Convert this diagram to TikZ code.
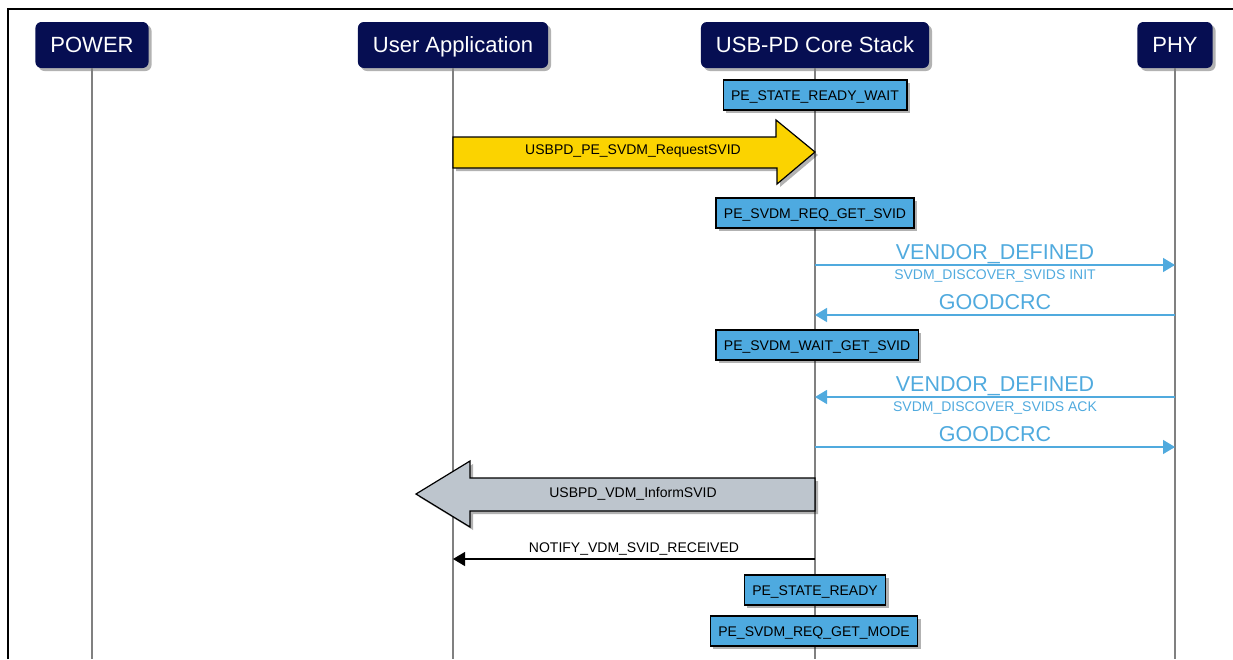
\documentclass[tikz,border=0pt]{standalone}
\usepackage{fontspec}
\setmainfont{Liberation Sans}
\usetikzlibrary{arrows.meta, positioning, shadows, calc}
\definecolor{colHead}{RGB}{6,14,82}
\definecolor{colState}{RGB}{78,170,224}
\definecolor{colMsg}{RGB}{80,170,222}
\definecolor{colCall}{RGB}{251,211,0}
\definecolor{colReply}{RGB}{189,197,205}
\definecolor{colLife}{RGB}{128,128,128}
\tikzset{
  boxShadow/.style={
    drop shadow={shadow xshift=3pt, shadow yshift=-3pt,
                 fill=black, opacity=0.3}
  },
  headBox/.style={
    rectangle, rounded corners=6pt,
    fill=colHead, text=white,
    font=\fontsize{22}{26}\selectfont,
    minimum height=46pt, inner xsep=15pt,
    text height=15.8pt, text depth=0pt,
    boxShadow
  },
  stateBox/.style={
    rectangle, draw=black, line width=1.2pt,
    fill=colState, font=\fontsize{14}{16}\selectfont,
    minimum height=30pt, inner xsep=8pt,
    text height=10pt, text depth=0pt,
    boxShadow
  },
  lifeLine/.style={
    line width=1.8pt, color=colLife
  },
  blockArr/.style={
    draw=black, line width=1.2pt, line join=miter, boxShadow
  },
  smallLbl/.style={
    font=\fontsize{14}{16}\selectfont
  },
  msgArr/.style={
    -{Triangle[length=12pt, width=14pt]}, line width=1.3pt, color=colMsg
  },
  msgBig/.style={
    font=\fontsize{21.5}{24}\selectfont, text=colMsg,
    anchor=base, yshift=5.8pt
  },
  msgSmall/.style={
    font=\fontsize{14}{16}\selectfont, text=colMsg,
    anchor=base, yshift=-14.8pt
  },
  notifyArr/.style={
    -{Triangle[length=12pt, width=14pt]}, line width=1.2pt, color=black
  }
}

\begin{document}
\begin{tikzpicture}[x=1pt, y=-1pt]
\useasboundingbox (0,0) rectangle (1233,659);

% frame of the figure
\draw[line width=2.5pt] (8,659) -- (8,9) -- (1233,9);

%% ==============================================================
%% Participants
%% ==============================================================

% --- Participant heads ---
\node[headBox] (hPower) at (92,45)   {POWER};
\node[headBox] (hUser)  at (453,45)  {User Application};
\node[headBox] (hCore)  at (815,45)  {USB-PD Core Stack};
\node[headBox] (hPhy)   at (1175,45) {PHY};

% --- Lifelines ---
\draw[lifeLine] (hPower.south) -- (hPower |- 0,659);
\draw[lifeLine] (hUser.south)  -- (hUser |- 0,659);
\draw[lifeLine] (hCore.south)  -- (hCore |- 0,659);
\draw[lifeLine] (hPhy.south)   -- (hPhy |- 0,659);

%% ==============================================================
%% Policy engine states
%% ==============================================================

\node[stateBox] (readyWait) at (815,95)  {PE\_STATE\_READY\_WAIT};
\node[stateBox] (reqSvid)   at (815,213) {PE\_SVDM\_REQ\_GET\_SVID};
\node[stateBox] (waitSvid)  at (817,345) {PE\_SVDM\_WAIT\_GET\_SVID};
\node[stateBox] (stReady)   at (815,590) {PE\_STATE\_READY};
\node[stateBox] (reqMode)   at (814,631) {PE\_SVDM\_REQ\_GET\_MODE};

%% ==============================================================
%%  ARROWS
%% ==============================================================

% User Application -> Core Stack (API call)
\draw[blockArr, fill=colCall] (hUser |- 0,137) -- ++(323,0) -- ++(0,-17)
    -- (hCore |- 0,152) -- ++(-38,32) -- ++(0,-16)
    -- (hUser |- 0,168) -- cycle;
\node[smallLbl] (callLbl) at (633,151) {USBPD\_PE\_SVDM\_RequestSVID};

% Core Stack -> PHY, discover SVIDs
\draw[msgArr] (hCore |- 0,265) --
    node[msgBig]   {VENDOR\_DEFINED}
    node[msgSmall] {SVDM\_DISCOVER\_SVIDS INIT}
    (hPhy |- 0,265);

% PHY -> Core Stack
\draw[msgArr] (hPhy |- 0,315) -- node[msgBig] {GOODCRC} (hCore |- 0,315);

% PHY -> Core Stack, answer
\draw[msgArr] (hPhy |- 0,397) --
    node[msgBig]   {VENDOR\_DEFINED}
    node[msgSmall] {SVDM\_DISCOVER\_SVIDS ACK}
    (hCore |- 0,397);

% Core Stack -> PHY
\draw[msgArr] (hCore |- 0,447) -- node[msgBig] {GOODCRC} (hPhy |- 0,447);

% Core Stack -> User Application (callback)
\draw[blockArr, fill=colReply] (hCore |- 0,478) -- ++(-345,0) -- ++(0,-17)
    -- ++(-54,33) -- ++(54,33) -- ++(0,-16)
    -- (hCore |- 0,511) -- cycle;
\node[smallLbl] (replyLbl) at (633,494) {USBPD\_VDM\_InformSVID};

% notification to the application
\draw[notifyArr] (hCore |- 0,559) --
    node[smallLbl, anchor=base, yshift=6.2pt] {NOTIFY\_VDM\_SVID\_RECEIVED}
    (hUser |- 0,559);

\end{tikzpicture}
\end{document}
